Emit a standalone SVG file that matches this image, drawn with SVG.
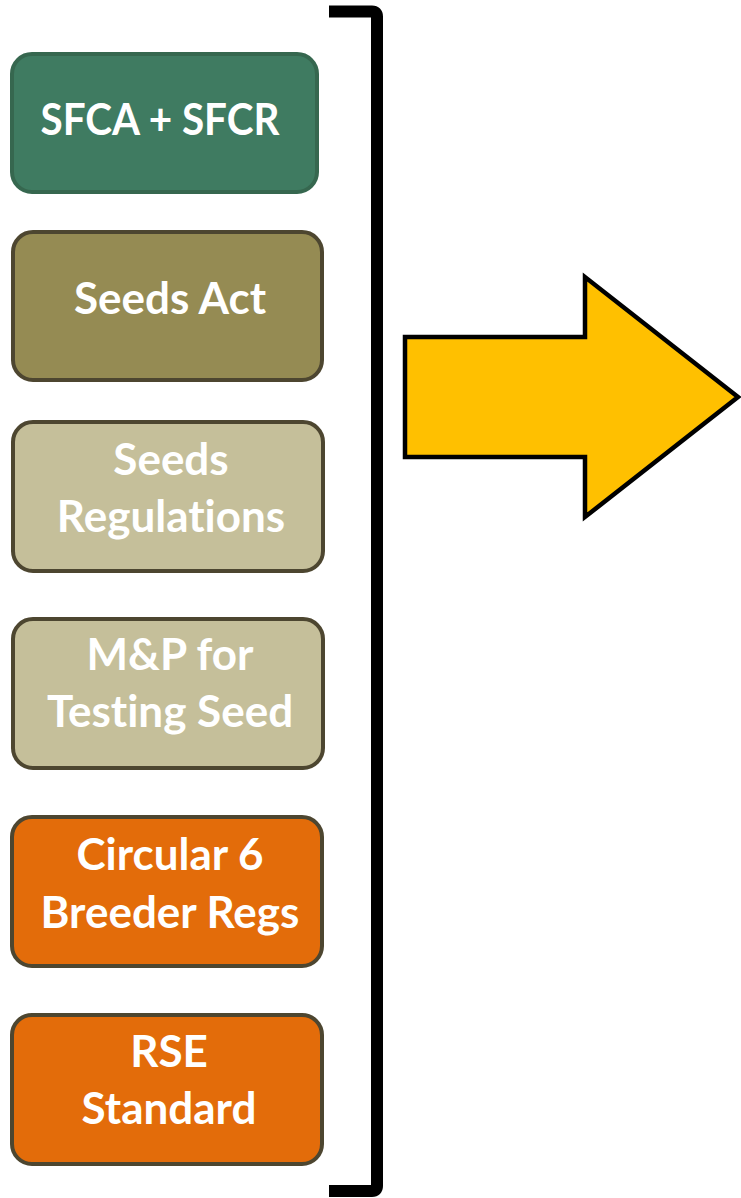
<svg xmlns="http://www.w3.org/2000/svg" width="741" height="1198" viewBox="0 0 741 1198">
<style>
.box{stroke-width:4}
.lbl{font-family:Lato,"Open Sans","Liberation Sans",sans-serif;font-weight:bold;font-size:44px;fill:#ffffff;text-anchor:middle;font-variant-ligatures:none;font-feature-settings:"liga" 0,"clig" 0}
.green{fill:#3f7b61;stroke:#36674f}
.olive{fill:#958b53;stroke:#4d4630}
.tan{fill:#c5bf9a;stroke:#4d4630}
.orange{fill:#e36c0a;stroke:#4d4630}
</style>
<rect width="741" height="1198" fill="#ffffff"/>
<g id="sfca">
<rect class="box green" x="12" y="54" width="305" height="138" rx="20"/>
<text class="lbl" x="160" y="135" textLength="239" lengthAdjust="spacingAndGlyphs">SFCA + SFCR</text>
</g>
<g id="seeds-act">
<rect class="box olive" x="13" y="232" width="309" height="148" rx="20"/>
<text class="lbl" x="170" y="314">Seeds Act</text>
</g>
<g id="seeds-regs">
<rect class="box tan" x="13" y="422" width="310" height="149" rx="20"/>
<text class="lbl" x="171" y="475">Seeds</text>
<text class="lbl" x="171" y="532">Regulations</text>
</g>
<g id="mp-testing">
<rect class="box tan" x="13" y="619" width="310" height="149" rx="20"/>
<text class="lbl" x="170" y="670">M&amp;P for</text>
<text class="lbl" x="170" y="727">Testing Seed</text>
</g>
<g id="circular6">
<rect class="box orange" x="12" y="817" width="310" height="149" rx="20"/>
<text class="lbl" x="170" y="870">Circular 6</text>
<text class="lbl" x="170" y="928">Breeder Regs</text>
</g>
<g id="rse">
<rect class="box orange" x="12" y="1015" width="310" height="149" rx="20"/>
<text class="lbl" x="169" y="1067">RSE</text>
<text class="lbl" x="169" y="1124">Standard</text>
</g>
<g id="connectors">
<path d="M329,11.5 H372 Q377,11.5 377,16.5 V1186 Q377,1191 372,1191 H329" fill="none" stroke="#000000" stroke-width="12"/>
<polygon points="405,337 585,337 585,277 738,397 585,517 585,457 405,457" fill="#ffc000" stroke="#000000" stroke-width="4.5"/>
</g>
</svg>
